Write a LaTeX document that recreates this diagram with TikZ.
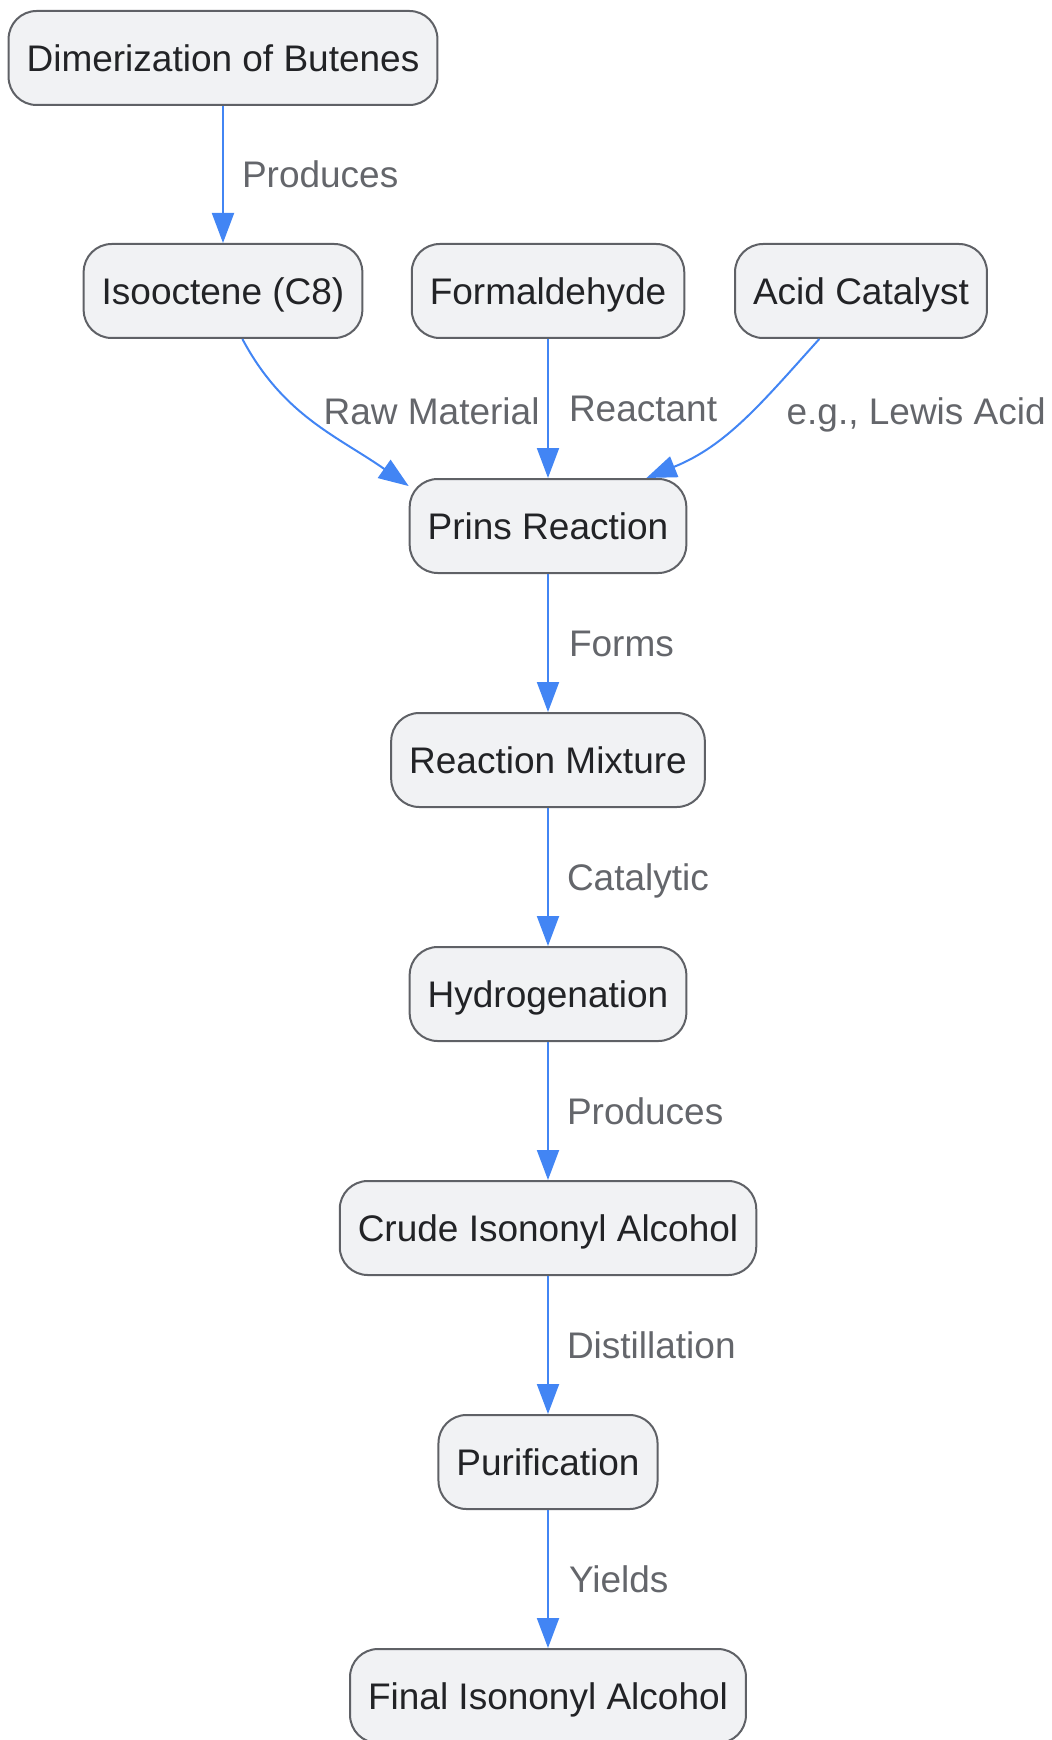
\documentclass[tikz,border=0pt]{standalone}
\usepackage{fontspec}
\setmainfont{Liberation Sans}
\usepackage{tikz}
\usetikzlibrary{
    arrows.meta,
    positioning
}
\definecolor{boxfill}{HTML}{F1F2F4}
\definecolor{boxline}{HTML}{5F6166}
\definecolor{boxtext}{HTML}{222326}
\definecolor{labeltext}{HTML}{64666B}
\definecolor{flowblue}{HTML}{4285F4}
\tikzset{
    % Colors
    stage color/.style={draw=boxline,fill=boxfill,text=boxtext},
    flow color/.style={draw=flowblue},
    %
    % Nodes
    stage/.style={stage color,rounded corners=21pt,line width=1.5pt,
        minimum height=70.5pt,inner xsep=13.5pt,inner ysep=0pt,
        text height=26pt,text depth=6pt},
    edge label/.style={text=labeltext,inner sep=0pt,anchor=west,
        text height=26pt,text depth=6pt},
    %
    % Arrows
    arrow tip/.tip={Triangle[length=22.5pt,width=16.5pt]},
    arr/.style={-{arrow tip},flow color,line width=1.5pt}
}
\tikzstyle{every node}=[font=\fontsize{27.75}{33}\selectfont]

\begin{document}
\begin{tikzpicture}[x=0.75pt,y=0.75pt,node distance=103.5pt]
        \useasboundingbox (0,0) rectangle (1051,-1740);
        % feed stages
        \node[stage] (dimer) at (223,-58) {Dimerization of Butenes};
        \node[stage] (isooct) at (223,-291) {Isooctene (C8)};
        \node[stage] (formal) at (548,-291) {Formaldehyde};
        \node[stage] (acid) at (861,-291) {Acid Catalyst};
        % main line
        \node[stage] (prins) at (548,-526) {Prins Reaction};
        \node[stage,below=of prins] (mixture) {Reaction Mixture};
        \node[stage,below=of mixture] (hydro) {Hydrogenation};
        \node[stage,below=of hydro] (crude) {Crude Isononyl Alcohol};
        \node[stage,below=of crude] (purif) {Purification};
        \node[stage,below=of purif] (final) {Final Isononyl Alcohol};
        % connectors
        \draw[arr] (dimer) -- node[edge label,xshift=13.5pt] {Produces} (isooct);
        \draw[arr] (isooct.-68) to[out=-62,in=145]
            node[edge label,pos=.45,xshift=12.5pt,yshift=4pt] {Raw Material} (prins.164);
        \draw[arr] (formal) -- node[edge label,xshift=15pt] {Reactant} (prins);
        \draw[arr] (acid.-131) to[out=-132,in=22]
            node[edge label,pos=.45,xshift=27.5pt,yshift=2pt] {e.g., Lewis Acid} (prins.26);
        \draw[arr] (prins) -- node[edge label,xshift=15pt] {Forms} (mixture);
        \draw[arr] (mixture) -- node[edge label,xshift=13.5pt] {Catalytic} (hydro);
        \draw[arr] (hydro) -- node[edge label,xshift=13.5pt] {Produces} (crude);
        \draw[arr] (crude) -- node[edge label,xshift=13.5pt] {Distillation} (purif);
        \draw[arr] (purif) -- node[edge label,xshift=15pt] {Yields} (final);
    \end{tikzpicture}
\end{document}
